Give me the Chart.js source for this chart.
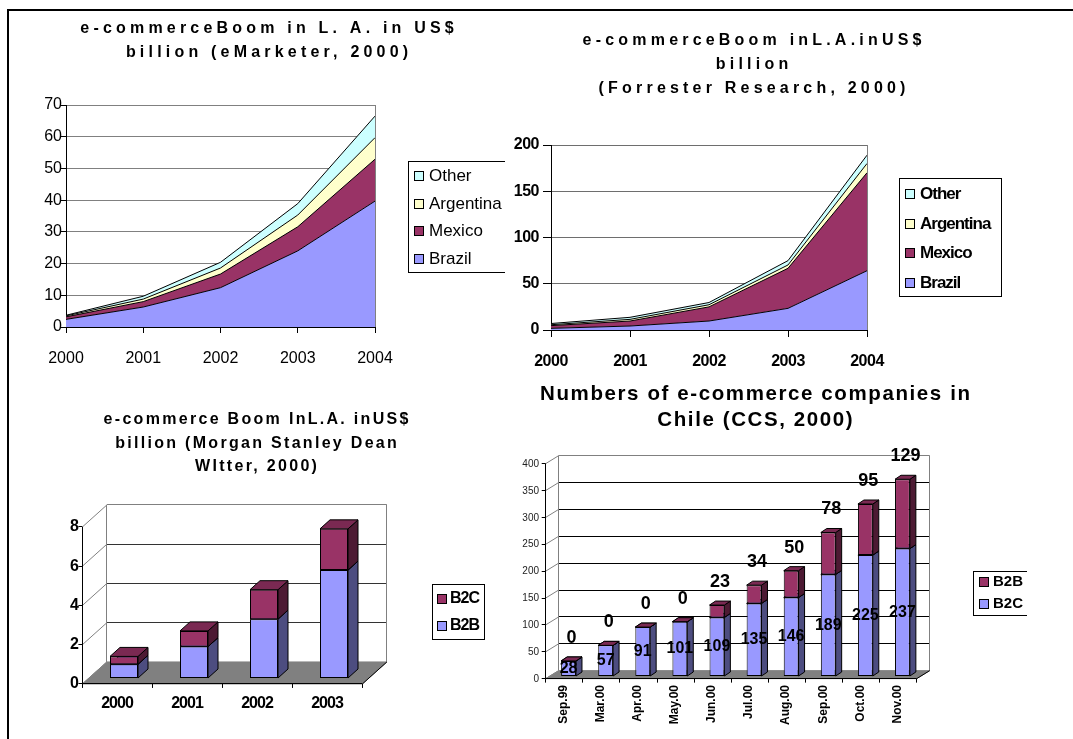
<!DOCTYPE html>
<html>
<head>
<meta charset="utf-8">
<script src="https://cdn.jsdelivr.net/npm/chart.js@4.4.0/dist/chart.umd.min.js"></script>
<style>
  html, body { margin: 0; padding: 0; background: #fff; }
  body { width: 1073px; height: 739px; position: relative; overflow: hidden; }
  .frame { position: absolute; left: 7px; top: 9px; width: 1100px; height: 760px;
           border-left: 2px solid #000; border-top: 2px solid #000; }
  canvas { position: absolute; }
</style>
</head>
<body>
<div class="frame"></div>
<canvas id="c1" width="505" height="375" style="left:0;top:0;width:505px;height:375px"></canvas>
<canvas id="c2" width="568" height="375" style="left:505px;top:0;width:568px;height:375px"></canvas>
<canvas id="c3" width="500" height="364" style="left:0;top:375px;width:500px;height:364px"></canvas>
<canvas id="c4" width="527" height="364" style="left:500px;top:375px;width:527px;height:364px"></canvas>
<script>
// ---- eMarketer forecast (US$ billion) ----
const years = ['2000', '2001', '2002', '2003', '2004'];
const emBrazil    = [2.4, 6.3, 12.4, 24.0, 39.7];
const emMexico    = [0.8, 1.7, 4.3, 7.6, 13.2];
const emArgentina = [0.3, 0.8, 1.9, 3.7, 6.8];
const emOther     = [0.2, 0.9, 1.8, 3.6, 6.8];

// ---- Forrester Research forecast (US$ billion) ----
const frBrazil    = [1.8, 4.3, 9.7, 23.4, 64.1];
const frMexico    = [2.9, 5.4, 15.3, 43.3, 105.9];
const frArgentina = [1.0, 1.8, 2.3, 3.6, 10.0];
const frOther     = [1.3, 2.2, 2.4, 4.7, 9.0];

// ---- Morgan Stanley Dean Witter (US$ billion) ----
const msYears = ['2000', '2001', '2002', '2003'];
const msB2B = [0.7, 1.6, 3.0, 5.5];
const msB2C = [0.4, 0.8, 1.5, 2.1];

// ---- CCS: number of e-commerce companies in Chile ----
const ccsMonths = ['Sep.99', 'Mar.00', 'Apr.00', 'May.00', 'Jun.00', 'Jul.00', 'Aug.00', 'Sep.00', 'Oct.00', 'Nov.00'];
const ccsB2C = [28, 57, 91, 101, 109, 135, 146, 189, 225, 237];
const ccsB2B = [0, 0, 0, 0, 23, 34, 50, 78, 95, 129];

const BLUE = '#9999FF', PLUM = '#993366', CREAM = '#FFFFCC', AQUA = '#CCFFFF';
const FONT = "'Liberation Sans', Arial, Helvetica, sans-serif";

Chart.defaults.font.family = FONT;
Chart.defaults.color = '#000';
Chart.defaults.animation = false;
Chart.defaults.events = [];
Chart.defaults.plugins.legend.display = false;
Chart.defaults.plugins.tooltip.enabled = false;

function shade(hex, k) {
  const n = parseInt(hex.slice(1), 16);
  const r = Math.round(((n >> 16) & 255) * k);
  const g = Math.round(((n >> 8) & 255) * k);
  const b = Math.round((n & 255) * k);
  return `rgb(${r},${g},${b})`;
}

function spacedText(ctx, text, x, y, font, spacing, align) {
  ctx.save();
  ctx.font = font;
  ctx.letterSpacing = spacing + 'px';
  ctx.textAlign = align;
  ctx.textBaseline = 'middle';
  ctx.fillStyle = '#000';
  ctx.fillText(text, x + (align === 'center' ? spacing / 2 : 0), y);
  ctx.restore();
}

function seg(ctx, x1, y1, x2, y2) {
  ctx.beginPath(); ctx.moveTo(x1, y1); ctx.lineTo(x2, y2); ctx.stroke();
}
const snap = v => Math.round(v - 0.5) + 0.5;

function poly(ctx, pts, fill, stroke) {
  ctx.beginPath();
  ctx.moveTo(pts[0][0], pts[0][1]);
  for (let i = 1; i < pts.length; i++) ctx.lineTo(pts[i][0], pts[i][1]);
  ctx.closePath();
  if (fill) { ctx.fillStyle = fill; ctx.fill(); }
  if (stroke) { ctx.strokeStyle = stroke; ctx.stroke(); }
}

// Titles, boxed legends, tick-label letter spacing and the plot's right edge
const sheet = {
  id: 'sheet',
  beforeDraw(chart, args, o) {
    chart.ctx.letterSpacing = (o.tickSpacing || 0) + 'px';
  },
  afterDatasetsDraw(chart, args, o) {
    if (!o.rightEdge) return;
    const ctx = chart.ctx, a = chart.chartArea;
    ctx.save();
    ctx.strokeStyle = o.rightEdge; ctx.lineWidth = 1;
    seg(ctx, snap(a.right), a.top, snap(a.right), a.bottom);
    ctx.restore();
  },
  afterDraw(chart, args, o) {
    const ctx = chart.ctx;
    if (o.title) {
      const t = o.title;
      t.lines.forEach((line, i) => spacedText(ctx, line, t.x, t.y + i * t.gap, t.font, t.spacing, 'center'));
    }
    if (o.legend) {
      const L = o.legend;
      const items = chart.data.datasets.map(d => ({ label: d.label, color: d.backgroundColor })).reverse();
      ctx.save();
      ctx.lineWidth = 1;
      ctx.strokeStyle = '#000';
      ctx.strokeRect(L.x + 0.5, L.y + 0.5, L.w, L.h);
      items.forEach((it, i) => {
        const cy = Math.round(L.firstY + i * L.gap);
        ctx.fillStyle = it.color;
        ctx.fillRect(L.swatchX, cy - 5, 10, 10);
        ctx.strokeStyle = '#000';
        ctx.strokeRect(L.swatchX + 0.5, cy - 4.5, 9, 9);
        spacedText(ctx, it.label, L.textX, cy, L.font, L.spacing, 'left');
      });
      ctx.restore();
    }
  }
};

// Perspective frame (walls, floor, front axes) and the depth faces of the columns
const box3d = {
  id: 'box3d',
  beforeDatasetsDraw(chart, args, o) {
    if (!o.depth) return;
    const ctx = chart.ctx, a = chart.chartArea, ys = chart.scales.y, xs = chart.scales.x;
    const [Dx, Dy] = o.depth;
    const fx = -o.front * Dx, fy = -o.front * Dy;
    const bx = (1 - o.front) * Dx, by = (1 - o.front) * Dy;
    const tickPx = ys.ticks.map(t => ys.getPixelForValue(t.value));
    const yTop = ys.getPixelForValue(ys.max), yBot = ys.getPixelForValue(0);
    ctx.save();
    ctx.lineWidth = 1;

    // back wall grid lines
    ctx.strokeStyle = o.gridColor;
    tickPx.forEach(py => {
      if (py > yTop + 0.5 && py < yBot - 0.5) seg(ctx, a.left + bx, snap(py + by), a.right + bx, snap(py + by));
    });
    // back wall outline and side wall lines
    ctx.strokeStyle = o.wallColor;
    seg(ctx, a.left + bx, snap(yTop + by), a.right + bx, snap(yTop + by));
    seg(ctx, snap(a.right + bx), yTop + by, snap(a.right + bx), yBot + by);
    seg(ctx, snap(a.left + bx), yTop + by, snap(a.left + bx), yBot + by);
    tickPx.forEach(py => seg(ctx, a.left + fx, py + fy, a.left + bx, py + by));

    // floor
    poly(ctx, [[a.left + fx, yBot + fy], [a.right + fx, yBot + fy], [a.right + bx, yBot + by], [a.left + bx, yBot + by]],
         o.floorColor, o.wallColor);
    ctx.strokeStyle = o.axisColor;
    seg(ctx, a.left + fx, snap(yBot + fy), a.right + fx, snap(yBot + fy));
    seg(ctx, a.right + fx, yBot + fy, a.right + bx, yBot + by);

    // front value axis with tick marks
    seg(ctx, snap(a.left + fx), yTop + fy, snap(a.left + fx), yBot + fy);
    tickPx.forEach(py => seg(ctx, a.left + fx - o.tick, snap(py + fy), a.left + fx, snap(py + fy)));
    // front category tick marks
    const n = xs.ticks.length, w = (a.right - a.left) / n;
    for (let k = 0; k <= n; k++) {
      const px = snap(a.left + fx + k * w);
      seg(ctx, px, yBot + fy, px, yBot + fy + o.tick);
    }

    // column depth faces, bottom series first
    const [cx, cy] = o.barDepth;
    ctx.strokeStyle = '#000';
    chart.data.datasets.forEach((ds, di) => {
      chart.getDatasetMeta(di).data.forEach(bar => {
        const p = bar.getProps(['x', 'y', 'base', 'width'], true);
        const l = p.x - p.width / 2, r = p.x + p.width / 2;
        const top = Math.min(p.y, p.base), bot = Math.max(p.y, p.base);
        poly(ctx, [[r, bot], [r, top], [r + cx, top + cy], [r + cx, bot + cy]], shade(ds.backgroundColor, 0.5), '#000');
        poly(ctx, [[l, top], [l + cx, top + cy], [r + cx, top + cy], [r, top]], shade(ds.backgroundColor, 0.8), '#000');
      });
    });
    ctx.restore();
  }
};

// Value labels on the Chile columns
const valueTags = {
  id: 'valueTags',
  afterDatasetsDraw(chart, args, o) {
    if (!o.sets) return;
    const ctx = chart.ctx;
    chart.data.datasets.forEach((ds, di) => {
      const cfg = o.sets[di];
      chart.getDatasetMeta(di).data.forEach((bar, i) => {
        const p = bar.getProps(['x', 'y', 'base'], true);
        const py = cfg.above ? p.y - cfg.gap : (p.y + p.base) / 2;
        spacedText(ctx, String(ds.data[i]), p.x + cfg.dx, py, cfg.font, 0, 'center');
      });
    });
  }
};

Chart.register(sheet, box3d, valueTags);

const area = (label, data, color, fill) => ({
  label, data, fill, backgroundColor: color, borderColor: '#000', borderWidth: 1, pointRadius: 0, tension: 0
});

// ---------- eMarketer stacked area ----------
new Chart(document.getElementById('c1'), {
  type: 'line',
  data: {
    labels: years,
    datasets: [
      area('Brazil', emBrazil, BLUE, 'origin'),
      area('Mexico', emMexico, PLUM, '-1'),
      area('Argentina', emArgentina, CREAM, '-1'),
      area('Other', emOther, AQUA, '-1')
    ]
  },
  options: {
    responsive: false,
    layout: { autoPadding: false, padding: { left: 16, top: 105, right: 130, bottom: 8 } },
    scales: {
      x: {
        offset: false,
        grid: { drawOnChartArea: false, drawTicks: true, tickLength: 6, tickColor: '#000' },
        border: { color: '#000' },
        ticks: { font: { size: 16 }, padding: 16, maxRotation: 0, autoSkip: false },
        afterFit: s => { s.height = 40; }
      },
      y: {
        stacked: true, min: 0, max: 70,
        grid: { color: '#808080', tickColor: '#000', tickLength: 6 },
        border: { color: '#000' },
        ticks: { stepSize: 10, font: { size: 16 }, padding: -2 },
        afterFit: s => { s.width = 50; }
      }
    },
    plugins: {
      sheet: {
        rightEdge: '#808080',
        title: { lines: ['e-commerceBoom in L. A. in US$', 'billion (eMarketer, 2000)'],
                 x: 267, y: 29, gap: 24, font: 'bold 16px ' + FONT, spacing: 4.2 },
        legend: { x: 408, y: 161, w: 130, h: 111, firstY: 176, gap: 27.5, swatchX: 414, textX: 429,
                  font: '17px ' + FONT, spacing: 0 }
      }
    }
  }
});

// ---------- Forrester stacked area ----------
new Chart(document.getElementById('c2'), {
  type: 'line',
  data: {
    labels: years,
    datasets: [
      area('Brazil', frBrazil, BLUE, 'origin'),
      area('Mexico', frMexico, PLUM, '-1'),
      area('Argentina', frArgentina, CREAM, '-1'),
      area('Other', frOther, AQUA, '-1')
    ]
  },
  options: {
    responsive: false,
    layout: { autoPadding: false, padding: { left: 6, top: 145, right: 206, bottom: 5 } },
    scales: {
      x: {
        offset: false,
        grid: { drawOnChartArea: false, drawTicks: true, tickLength: 7, tickColor: '#000' },
        border: { color: '#000' },
        ticks: { font: { size: 16, weight: 'bold' }, padding: 15, maxRotation: 0, autoSkip: false },
        afterFit: s => { s.height = 40; }
      },
      y: {
        stacked: true, min: 0, max: 200,
        grid: { color: '#6e6e6e', tickColor: '#000', tickLength: 8 },
        border: { color: '#000' },
        ticks: { stepSize: 50, font: { size: 16, weight: 'bold' }, padding: 4 },
        afterFit: s => { s.width = 40; }
      }
    },
    plugins: {
      sheet: {
        tickSpacing: -0.5,
        rightEdge: '#808080',
        title: { lines: ['e-commerceBoom inL.A.inUS$', 'billion', '(Forrester Research, 2000)'],
                 x: 247, y: 41, gap: 24, font: 'bold 16px ' + FONT, spacing: 4.2 },
        legend: { x: 394, y: 178, w: 102, h: 118, firstY: 194, gap: 29.7, swatchX: 400, textX: 415,
                  font: 'bold 17px ' + FONT, spacing: -1 }
      }
    }
  }
});

// ---------- Morgan Stanley Dean Witter 3-D stacked columns ----------
new Chart(document.getElementById('c3'), {
  type: 'bar',
  data: {
    labels: msYears,
    datasets: [
      { label: 'B2B', data: msB2B, backgroundColor: BLUE, borderColor: '#000', borderWidth: 1, borderSkipped: false },
      { label: 'B2C', data: msB2C, backgroundColor: PLUM, borderColor: '#000', borderWidth: 1, borderSkipped: false }
    ]
  },
  options: {
    responsive: false,
    barPercentage: 0.4, categoryPercentage: 1,
    layout: { autoPadding: false, padding: { left: 49, top: 146, right: 131, bottom: 16 } },
    scales: {
      x: {
        stacked: true,
        grid: { display: false, drawTicks: false },
        border: { display: false },
        ticks: { font: { size: 16, weight: 'bold' }, padding: 16, labelOffset: -7, maxRotation: 0 },
        afterFit: s => { s.height = 45; }
      },
      y: {
        stacked: true, min: 0, max: 8,
        grid: { display: false, drawTicks: false },
        border: { display: false },
        ticks: { stepSize: 2, font: { size: 16, weight: 'bold' }, padding: 11, labelOffset: 6 },
        afterFit: s => { s.width = 40; }
      }
    },
    plugins: {
      box3d: { depth: [24.5, -22], front: 0.27, barDepth: [10, -9], tick: 4,
               gridColor: '#333', wallColor: '#808080', floorColor: '#808080', axisColor: '#000' },
      sheet: {
        tickSpacing: -1,
        title: { lines: ['e-commerce Boom InL.A. inUS$', 'billion (Morgan Stanley Dean', 'WItter, 2000)'],
                 x: 256, y: 45, gap: 23.3, font: 'bold 16px ' + FONT, spacing: 2.3 },
        legend: { x: 432, y: 209, w: 52, h: 55, firstY: 224, gap: 27, swatchX: 437, textX: 450,
                  font: 'bold 16px ' + FONT, spacing: -1 }
      }
    }
  }
});

// ---------- CCS Chile 3-D stacked columns ----------
new Chart(document.getElementById('c4'), {
  type: 'bar',
  data: {
    labels: ccsMonths,
    datasets: [
      { label: 'B2C', data: ccsB2C, backgroundColor: BLUE, borderColor: '#000', borderWidth: 1, borderSkipped: false },
      { label: 'B2B', data: ccsB2B, backgroundColor: PLUM, borderColor: '#000', borderWidth: 1, borderSkipped: false }
    ]
  },
  options: {
    responsive: false,
    barPercentage: 0.4, categoryPercentage: 1,
    layout: { autoPadding: false, padding: { left: 10, top: 86, right: 106, bottom: 3 } },
    scales: {
      x: {
        stacked: true,
        grid: { display: false, drawTicks: false },
        border: { display: false },
        ticks: { font: { size: 12, weight: 'bold' }, padding: 9, labelOffset: -5,
                 minRotation: 90, maxRotation: 90, autoSkip: false },
        afterFit: s => { s.height = 60; }
      },
      y: {
        stacked: true, min: 0, max: 400,
        grid: { display: false, drawTicks: false },
        border: { display: false },
        ticks: { stepSize: 50, font: { size: 10 }, color: '#222', padding: 11, labelOffset: 3 },
        afterFit: s => { s.width = 40; }
      }
    },
    plugins: {
      box3d: { depth: [13, -8], front: 0.33, barDepth: [6, -4], tick: 4,
               gridColor: '#000', wallColor: '#808080', floorColor: '#808080', axisColor: '#000' },
      valueTags: {
        sets: [
          { above: false, dx: 0, font: 'bold 16px ' + FONT },
          { above: true, gap: 23, dx: 3, font: 'bold 18px ' + FONT }
        ]
      },
      sheet: {
        title: { lines: ['Numbers of e-commerce companies in', 'Chile (CCS, 2000)'],
                 x: 255, y: 19, gap: 26.5, font: 'bold 20.5px ' + FONT, spacing: 1.6 },
        legend: { x: 473, y: 196, w: 70, h: 44, firstY: 207, gap: 22, swatchX: 479, textX: 493,
                  font: 'bold 15px ' + FONT, spacing: 0 }
      }
    }
  }
});
</script>
</body>
</html>
